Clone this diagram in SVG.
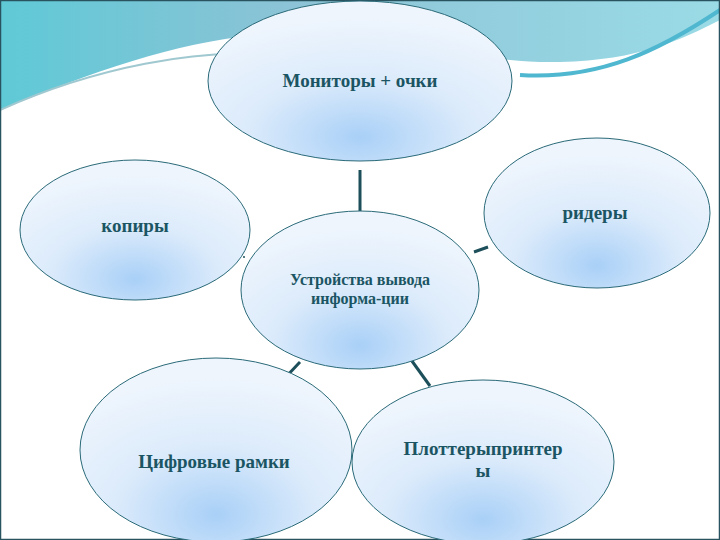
<svg xmlns="http://www.w3.org/2000/svg" width="720" height="540" viewBox="0 0 720 540">
<defs>
<radialGradient id="g" cx="0.5" cy="0.85" r="0.75">
<stop offset="0" stop-color="#a9d0f7"/>
<stop offset="0.5" stop-color="#dcebfb"/>
<stop offset="1" stop-color="#eef5fd"/>
</radialGradient>
<linearGradient id="w" x1="0" y1="0" x2="1" y2="0">
<stop offset="0" stop-color="#5fc9d6"/>
<stop offset="0.4" stop-color="#8cc3d6"/>
<stop offset="1" stop-color="#9adbe6"/>
</linearGradient>
<style>
.n{fill:url(#g);stroke:#2a6a78;stroke-width:1}
.t{font-family:'Liberation Serif','Noto Serif','DejaVu Serif',serif;font-weight:bold;fill:#1b5563;text-anchor:middle}
.c{stroke:#1d4f5a;stroke-width:3;fill:none}
</style>
</defs>
<rect width="720" height="540" fill="#fff"/>
<path d="M0 0H720V20C680 40 640 60 560 62C480 64 420 40 330 32C220 28 120 60 0 110Z" fill="url(#w)"/>
<path d="M0 110C100 65 200 50 260 55" fill="none" stroke="#a0c8d0" stroke-width="2"/>
<path d="M520 75C600 80 660 50 720 10" fill="none" stroke="#4fb7cf" stroke-width="4"/>
<rect x="0.5" y="0.5" width="719" height="539" fill="none" stroke="#2a5360" stroke-width="1.5"/>
<g id="connectors">
<line class="c" x1="360" y1="170" x2="360" y2="232"/>
<line class="c" x1="474" y1="252" x2="488" y2="247"/>
<line class="c" x1="283" y1="380" x2="300" y2="362"/>
<line class="c" x1="404" y1="350" x2="430" y2="386"/>
<circle cx="244" cy="257" r="1" fill="#1d4f5a"/>
</g>
<g id="n-top"><ellipse class="n" cx="360" cy="81" rx="152" ry="80"/><text class="t" x="360" y="87" font-size="19">Мониторы + очки</text></g>
<g id="n-left"><ellipse class="n" cx="135" cy="230" rx="115" ry="70"/><text class="t" x="135" y="232" font-size="19">копиры</text></g>
<g id="n-right"><ellipse class="n" cx="597" cy="213" rx="113" ry="75"/><text class="t" x="595" y="219" font-size="19">ридеры</text></g>
<g id="n-center"><ellipse class="n" cx="360" cy="290" rx="119" ry="79"/><text class="t" x="360" y="285" font-size="16">Устройства вывода</text><text class="t" x="360" y="304" font-size="16">информа-ции</text></g>
<g id="n-bl"><ellipse class="n" cx="216" cy="450" rx="136" ry="92"/><text class="t" x="214" y="468" font-size="19">Цифровые рамки</text></g>
<g id="n-br"><ellipse class="n" cx="483" cy="462" rx="131" ry="82"/><text class="t" x="483" y="455" font-size="19">Плоттерыпринтер</text><text class="t" x="483" y="477" font-size="19">ы</text></g>
</svg>
